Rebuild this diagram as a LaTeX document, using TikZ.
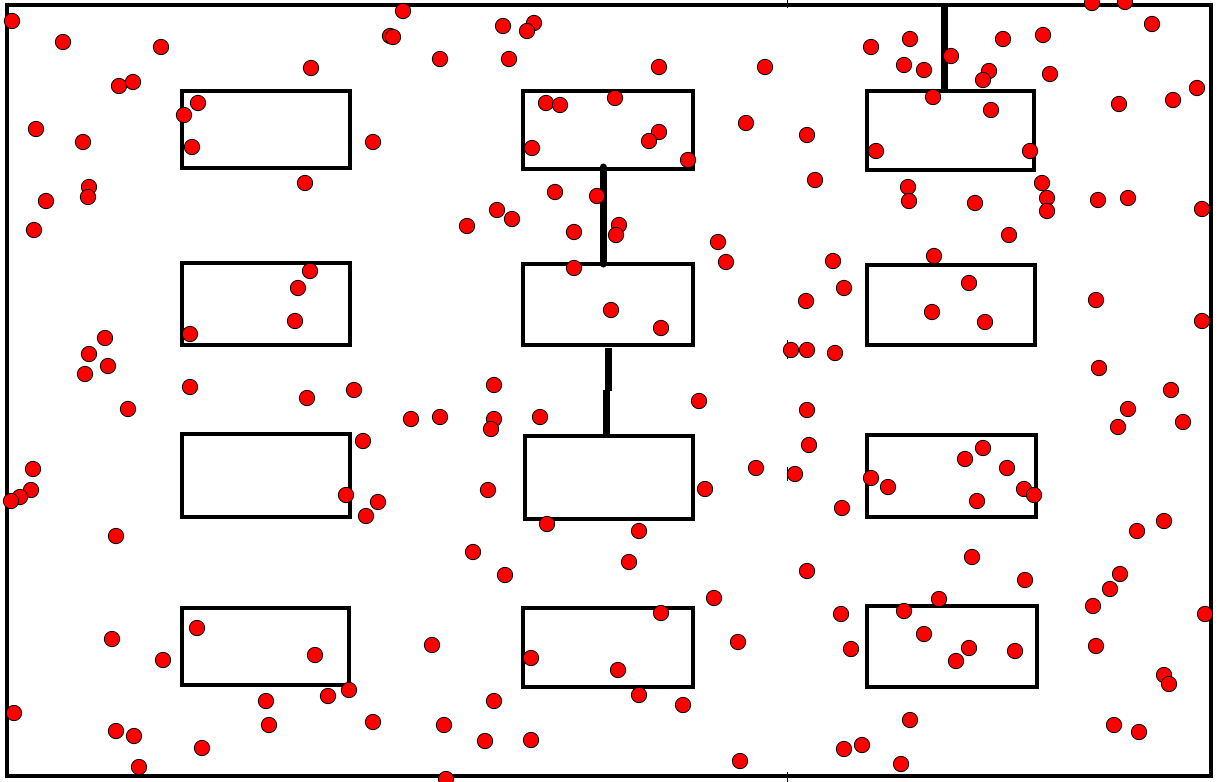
\documentclass[tikz,border=0pt]{standalone}
\usetikzlibrary{math}
\tikzset{
  ball/.style={fill=red, draw=black, line width=0.8pt},
  bay/.style={draw=black, line width=4pt},
  wall/.style={draw=black, line width=7pt},
}
\begin{document}
\begin{tikzpicture}[x=1pt,y=-1pt]

\tikzmath{
\R = 7.7;% ball radius
}

\useasboundingbox (0,0) rectangle (1224,782);
\fill[white] (0,0) rectangle (1224,782);
\draw[line width=4pt] (7,5) rectangle (1211,776);

% thin marks on the middle line
\foreach \ya/\yb in {0/8, 340/359, 467/481, 772/782}{
\draw[line width=0.8pt] (787,\ya) -- (787,\yb);
}

% bays, 4 rows x 3 columns
\foreach \xa/\ya/\xb/\yb in {
182/91/350/168, 182/263/350/345, 182/434/350/517, 182/608/349/685,
523/91/693/169, 523/264/693/345, 525/436/693/519, 523/608/693/687,
867/91/1034/170, 867/265/1035/345, 867/435/1036/517, 867/606/1037/687}{
\draw[bay] (\xa,\ya) rectangle (\xb,\yb);
}

% walls
\draw[wall, line cap=round] (603,167) -- (603,264);
\draw[wall] (608,348) -- (608,391);
\draw[wall] (606,390) -- (606,434);
\draw[wall] (944,5) -- (944,89);

% balls
\foreach \x/\y in {
12/21, 63/42, 161/47, 403/11, 390/36, 393/37, 311/68, 119/86, 133/82,
198/103, 184/115, 192/147, 373/142, 36/129, 83/142, 305/183, 89/187,
88/197, 46/201, 34/230,
503/26, 534/23, 527/31, 440/59, 509/59, 659/67, 765/67, 546/103,
560/105, 615/98, 532/148, 659/132, 649/141, 688/160, 746/123, 807/135,
815/180, 555/192, 597/196, 497/210, 512/219, 467/226, 574/232, 619/225,
616/235, 718/242, 726/262,
1092/3, 1125/2, 1152/24, 871/47, 910/39, 904/65, 924/70, 951/56,
1003/39, 1043/35, 989/71, 983/80, 1050/74, 933/97, 991/110, 1119/104,
1173/100, 1197/88, 876/151, 1030/151, 908/187, 909/201, 975/203,
1042/183, 1047/198, 1047/211, 1098/200, 1128/198, 1202/209, 1009/235,
833/261, 934/256,
310/271, 298/288, 295/321, 190/334, 105/338, 89/354, 108/366, 85/374,
190/387, 128/409, 307/398, 354/390, 411/419, 363/441, 33/469, 31/490,
20/497, 11/501, 346/495, 378/502, 366/516,
574/268, 611/310, 661/328, 806/301, 791/350, 807/350, 494/385, 440/417,
494/419, 491/429, 540/417, 699/401, 807/410, 809/445, 756/468, 795/474,
488/490, 705/489, 547/524, 639/531,
844/288, 969/283, 932/312, 985/322, 1096/300, 1202/321, 835/353,
1099/368, 1171/390, 1128/409, 1118/427, 1183/422, 983/448, 965/459,
1007/468, 871/478, 888/487, 1024/489, 1034/495, 977/501, 842/508,
1164/521, 1137/531,
116/536, 197/628, 315/655, 112/639, 163/660, 14/713, 116/731, 134/736,
202/748, 139/767, 266/701, 328/696, 349/690, 269/725, 373/722,
473/552, 505/575, 629/562, 807/571, 714/598, 661/613, 738/642, 432/645,
531/658, 618/670, 639/695, 683/705, 494/701, 444/725, 485/741, 531/740,
740/761, 446/779,
972/557, 1025/580, 1120/574, 1110/589, 1093/606, 1205/614, 939/599,
841/614, 904/611, 924/634, 851/649, 969/648, 956/661, 1015/651,
1096/646, 1164/675, 1169/684, 910/720, 1114/725, 1139/732, 862/745,
844/749, 901/764}{
\draw[ball] (\x,\y) circle (\R pt);
}

\end{tikzpicture}
\end{document}
